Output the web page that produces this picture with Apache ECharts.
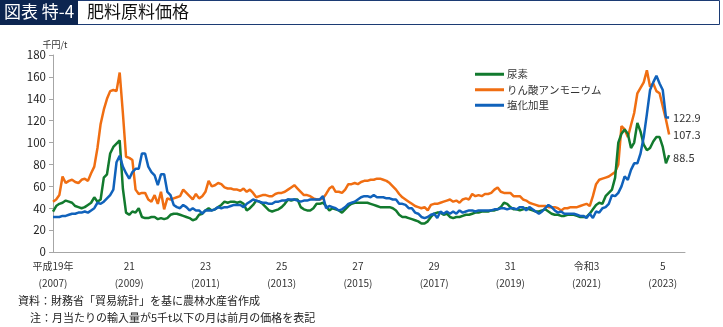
<!DOCTYPE html>
<html>
<head>
<meta charset="utf-8">
<script src="https://cdn.jsdelivr.net/npm/echarts@6/dist/echarts.min.js"></script>
<style>
  html, body { margin: 0; padding: 0; background: #fff; }
  #chart { width: 723px; height: 327px; }
</style>
</head>
<body>
<div id="chart"></div>
<script>
// Monthly import prices of fertilizer raw materials (thousand yen per tonne),
// January 2007 (平成19年) through March 2023 (令和5年).
const seriesNames = ['尿素', 'りん酸アンモニウム', '塩化加里'];

const urea = [
  37, 42, 44, 45, 47, 46, 45, 42, 41, 40, 41, 43,
  45, 50, 46, 48, 68, 71, 90, 96, 99, 102, 58, 36,
  34, 37, 36, 40, 32, 31, 31, 32, 32, 30, 31, 30,
  31, 34, 35, 35, 34, 33, 32, 31, 29, 30, 34, 35,
  38, 40, 38, 39, 41, 43, 46, 45, 46, 46, 45, 46,
  44, 38, 40, 43, 47, 46, 44, 41, 38, 37, 38, 39,
  41, 44, 48, 47, 48, 48, 41, 39, 38, 38, 40, 44,
  44, 45, 42, 38, 40, 39, 38, 36, 39, 42, 44, 45,
  45, 45, 45, 45, 44, 43, 42, 41, 41, 41, 41, 40,
  38, 34, 32, 32, 31, 30, 29, 28, 26, 26, 28, 32,
  35, 36, 36, 34, 35, 32, 31, 32, 32, 33, 34, 34,
  35, 36, 36, 37, 37, 37, 38, 38, 39, 41, 45, 44,
  41, 39, 39, 38, 39, 40, 39, 38, 37, 37, 38, 39,
  37, 35, 34, 34, 33, 33, 34, 34, 34, 33, 32, 32,
  32, 35, 39, 43, 45, 44, 51, 54, 57, 68, 100, 108,
  112, 108, 95, 100, 118, 110, 98, 93, 95, 101, 105, 105,
  96, 81, 88.5
];

const dap = [
  46, 48, 52, 69, 63, 65, 66, 64, 63, 66, 67, 65,
  72, 78, 95, 117, 130, 140, 147, 148, 147, 164, 127, 87,
  86, 84, 57, 53, 54, 54, 48, 46, 52, 44, 55, 39,
  49, 48, 49, 50, 51, 57, 54, 51, 48, 53, 49, 51,
  55, 65, 60, 61, 63, 62, 59, 58, 58, 57, 57, 56,
  58, 55, 57, 54, 50, 51, 52, 52, 51, 51, 53, 54,
  54, 55, 57, 59, 61, 58, 55, 52, 52, 51, 49, 48,
  48, 49, 53, 58, 60, 55, 55, 54, 57, 62, 62, 63,
  62, 64, 65, 65, 66, 66, 67, 67, 66, 65, 63, 60,
  57, 53, 50, 48, 46, 44, 42, 41, 40, 41, 38, 43,
  44, 44, 45, 46, 47, 48, 46, 47, 45, 48, 49, 48,
  53, 51, 52, 51, 53, 53, 54, 57, 59, 55, 54, 54,
  54, 51, 51, 51, 48, 47, 45, 44, 43, 42, 42, 42,
  41, 41, 41, 40, 38, 40, 40, 41, 41, 41, 42, 43,
  44, 42, 51, 62, 66, 67, 68, 69, 71, 73, 80, 115,
  112, 105, 116, 127, 145, 150, 155, 166, 151, 154, 147, 145,
  133, 121, 107.3
];

const potash = [
  32, 32, 32, 33, 33, 34, 35, 35, 36, 36, 37, 36,
  38, 40, 45, 44, 46, 49, 52, 57, 82, 88, 78, 72,
  67, 73, 76, 76, 90, 90, 78, 73, 70, 61, 71, 71,
  55, 52, 43, 41, 40, 43, 41, 38, 40, 38, 38, 35,
  38, 38, 38, 39, 41, 40, 41, 41, 42, 43, 43, 43,
  41, 44, 46, 48, 47, 46, 45, 45, 44, 44, 46, 46,
  47, 47, 48, 48, 48, 47, 46, 47, 47, 48, 48, 48,
  48, 51, 40, 42, 41, 40, 38, 39, 41, 44, 45, 46,
  48, 50, 51, 51, 50, 52, 50, 50, 50, 49, 49, 48,
  48, 44, 44, 43, 40, 40, 36, 35, 32, 31, 32, 34,
  35, 31, 37, 35, 37, 35, 37, 35, 38, 36, 37, 38,
  38, 37, 38, 38, 38, 38, 38, 39, 39, 40, 40, 39,
  40, 40, 39, 41, 41, 38, 41, 39, 37, 35, 37, 40,
  43, 41, 38, 36, 37, 35, 35, 35, 35, 34, 33, 33,
  31, 35, 31, 37, 36, 40, 41, 44, 52, 51, 54, 60,
  69, 66, 75, 81, 81, 90, 105, 126, 148, 155, 161, 154,
  148, 123, 122.9
];

// Axis tick labels placed every 24 months (January of odd years)
const xTickLabels = [
  '平成19年\n(2007)', '21\n(2009)', '23\n(2011)', '25\n(2013)', '27\n(2015)',
  '29\n(2017)', '31\n(2019)', '令和3\n(2021)', '5\n(2023)'
];
const yTicks = [0, 20, 40, 60, 80, 100, 120, 140, 160, 180];

const colors = ['#127a2e', '#f06e12', '#1062bb'];
const FONT = '"Noto Sans CJK JP", "Noto Sans", sans-serif';

function toPoints(values) {
  return values.map((v, i) => [i, v]);
}

const chart = echarts.init(document.getElementById('chart'), null, { renderer: 'canvas' });

const lineSeries = [urea, dap, potash].map((vals, k) => ({
  name: seriesNames[k],
  type: 'line',
  data: toPoints(vals),
  showSymbol: false,
  symbol: 'none',
  lineStyle: { width: 2.5, color: colors[k] },
  itemStyle: { color: colors[k] },
  z: k === 2 ? 4 : (k === 0 ? 3 : 2),
  endLabel: {
    show: true,
    formatter: p => String(p.value[1]),
    fontFamily: FONT,
    fontSize: 11,
    color: '#333',
    distance: 4,
    offset: k === 0 ? [0, 3] : [0, 0]
  },
  animation: false
}));

chart.setOption({
  animation: false,
  textStyle: { fontFamily: FONT },
  grid: { left: 53, right: 38, top: 55, bottom: 75, containLabel: false },
  legend: {
    orient: 'vertical',
    left: 475,
    top: 68,
    padding: 0,
    icon: 'rect',
    itemWidth: 29,
    itemHeight: 3,
    itemGap: 3,
    textStyle: { fontFamily: FONT, fontSize: 10.5, color: '#333', lineHeight: 12.5, padding: [0, 0, 0, -2] },
    data: seriesNames
  },
  xAxis: {
    type: 'value',
    min: 0,
    max: 199,
    interval: 24,
    splitLine: { show: false },
    axisTick: { show: false },
    axisLine: { show: true, lineStyle: { color: '#a6a6a6', width: 1 } },
    axisLabel: {
      fontFamily: FONT,
      fontSize: 10,
      color: '#333',
      lineHeight: 17,
      margin: 6,
      showMaxLabel: false,
      formatter: v => (v % 24 === 0 && xTickLabels[v / 24]) ? xTickLabels[v / 24] : ''
    }
  },
  yAxis: {
    type: 'value',
    min: yTicks[0],
    max: yTicks[yTicks.length - 1],
    interval: 20,
    name: '千円/t',
    nameLocation: 'end',
    nameGap: 6,
    nameTextStyle: { fontFamily: FONT, fontSize: 9, color: '#333', align: 'center', padding: [0, 0, 0, 4] },
    splitLine: { show: false },
    axisLine: { show: true, lineStyle: { color: '#a6a6a6', width: 1 } },
    axisTick: { show: true, inside: false, length: 4, lineStyle: { color: '#a6a6a6' } },
    axisLabel: { fontFamily: FONT, fontSize: 11.5, color: '#222', margin: 7 }
  },
  graphic: [
    {
      type: 'rect',
      shape: { x: 0.5, y: 0.5, width: 719, height: 24 },
      style: { fill: 'none', stroke: '#1c3b74', lineWidth: 1 },
      silent: true
    },
    {
      type: 'rect',
      shape: { x: 0, y: 0, width: 78, height: 25 },
      style: { fill: '#0c2550' },
      silent: true
    },
    {
      type: 'text',
      left: 4, top: 3,
      style: { text: '図表 特-4', fill: '#fff', font: '17px ' + FONT }
    },
    {
      type: 'text',
      left: 87, top: 3,
      style: { text: '肥料原料価格', fill: '#111', font: '17px ' + FONT }
    },
    {
      type: 'text',
      left: 18, top: 295,
      style: { text: '資料：財務省「貿易統計」を基に農林水産省作成', fill: '#222', font: '11px ' + FONT }
    },
    {
      type: 'text',
      left: 30, top: 312,
      style: { text: '注：月当たりの輸入量が5千t以下の月は前月の価格を表記', fill: '#222', font: '11px ' + FONT }
    }
  ],
  series: lineSeries
});
</script>
</body>
</html>
